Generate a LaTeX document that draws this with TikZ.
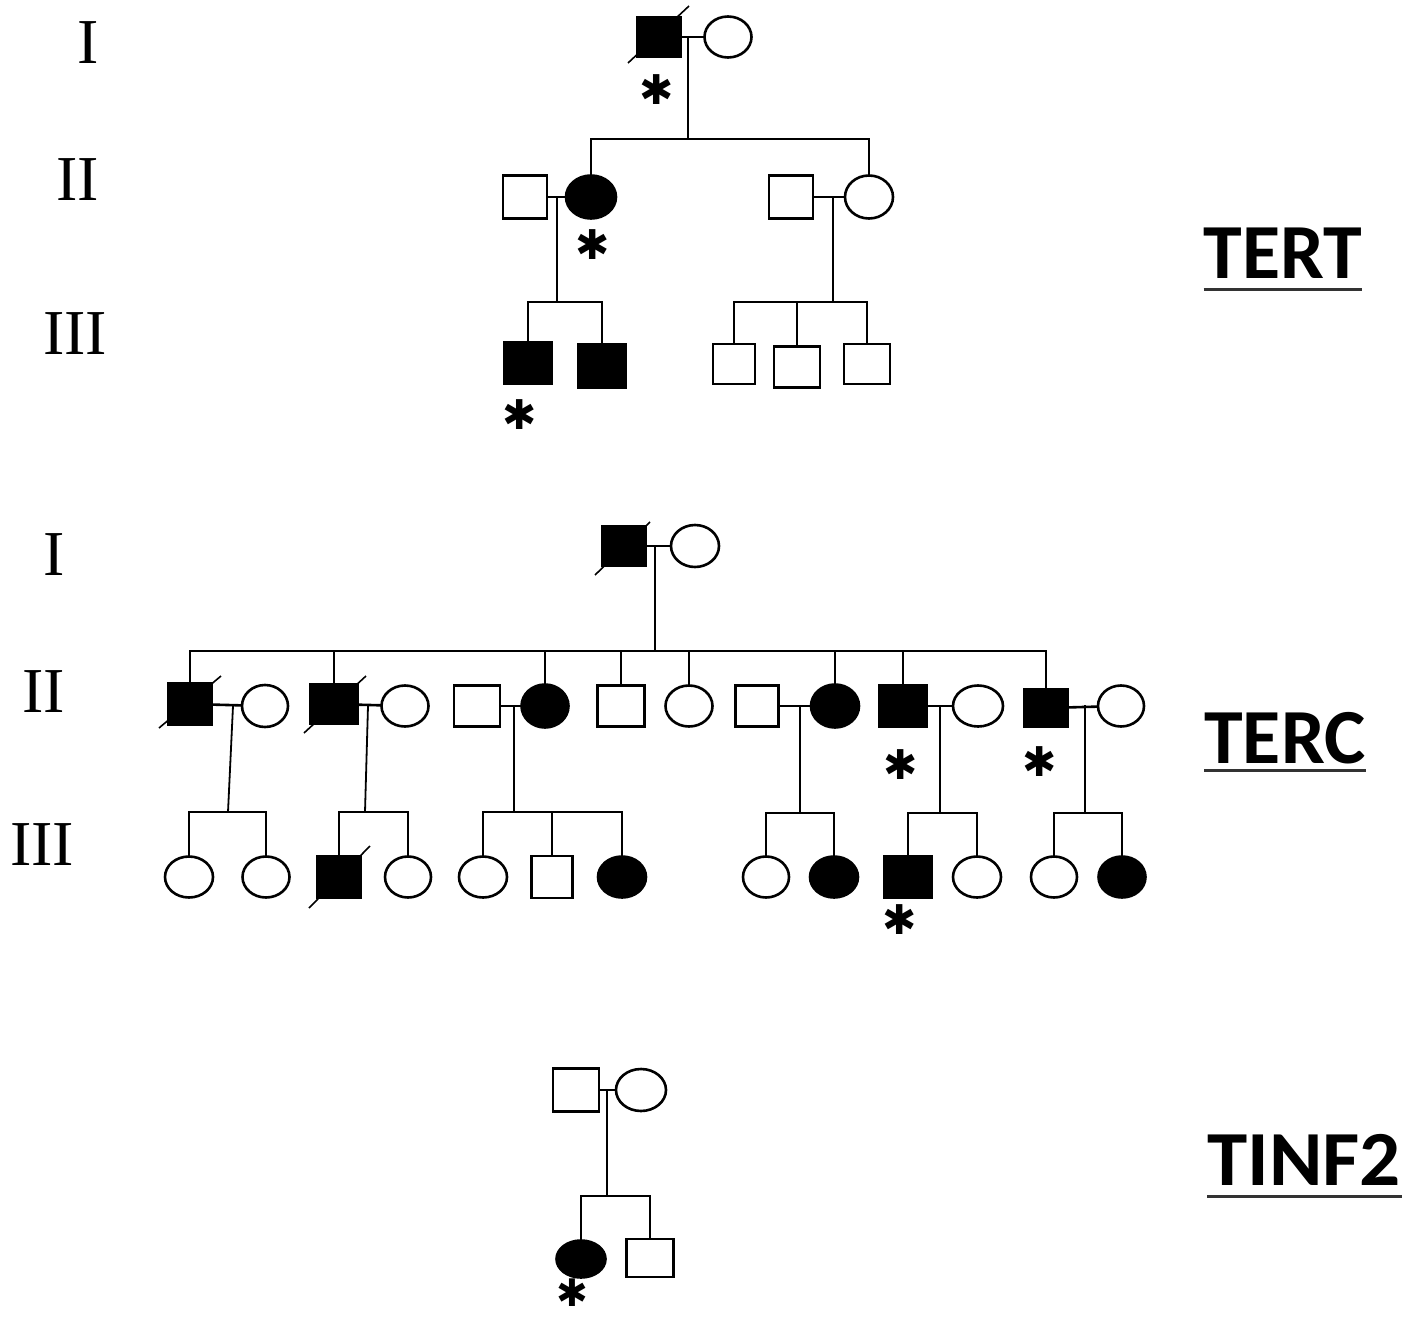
\documentclass[tikz,border=0pt]{standalone}
\usepackage{fontspec}
\usetikzlibrary{shapes.geometric}
\newfontfamily\gennum{Liberation Serif}
\newfontfamily\genelabel[BoldFont={Carlito Bold}]{Carlito}
\newfontfamily\markfont{DejaVu Sans}
\tikzset{
  lw/.style={line width=2.6pt},
  male/.style={draw, lw, rectangle, inner sep=0pt, minimum width=44pt, minimum height=41pt},
  female/.style={draw, lw, ellipse, inner sep=0pt, minimum width=47pt, minimum height=41pt},
  aff/.style={fill=black},
  link/.style={lw, line cap=rect},
  slash/.style={line width=1.6pt},
  gen/.style={font=\gennum\fontsize{64}{64}\selectfont, inner sep=0pt, anchor=base},
  gene/.style={font=\genelabel\bfseries\fontsize{78}{78}\selectfont, inner sep=0pt, anchor=base},
  uline/.style={line width=3pt, black!80},
  carrier/.style={font=\markfont\fontsize{41}{41}\selectfont, inner sep=0pt, anchor=center}
}
\begin{document}
\begin{tikzpicture}[x=1pt, y=-1pt]
\useasboundingbox (0,0) rectangle (1416,1319);

% ---------------- generation numerals ----------------
\node[gen] (ga1) at (88,64) {I};
\node[gen] (ga2) at (78,200) {II};
\node[gen] (ga3) at (75,354) {III};
\node[gen] (gb1) at (54,575) {I};
\node[gen] (gb2) at (44,712) {II};
\node[gen] (gb3) at (42,865) {III};

% ---------------- gene names ----------------
\node[gene] (lt) at (1283,278) {TERT};
\draw[uline] (lt.west |- 0,289) -- (lt.east |- 0,289);
\node[gene] (lc) at (1285,763) {TERC};
\draw[uline] (lc.west |- 0,770) -- (lc.east |- 0,770);
\node[gene, xscale=1.04] (lf) at (1304,1185) {TINF2};
\draw[uline] (1207,1196) -- (1402,1196);

% ================= TERT family =================
\node[male, aff, minimum width=44pt, minimum height=40pt] (t11) at (659,37) {};
\draw[slash] (628,63) -- (689,6);
\node[female] (t12) at (728,37) {};
\draw[link] (t11) -- (t12);
\coordinate (tm1) at (688,37);
\coordinate (ts1) at (688,139);
\draw[link] (tm1) -- (ts1);

\node[male, minimum height=43pt] (t21) at (525,197) {};
\node[female, aff, minimum width=50pt, minimum height=43pt] (t22) at (591,197) {};
\node[male, minimum height=43pt] (t23) at (791,197) {};
\node[female, minimum width=48pt, minimum height=43pt] (t24) at (869,197) {};
\draw[link] (t22.north) |- (ts1) -| (t24.north);
\draw[link] (t21) -- (t22);
\draw[link] (t23) -- (t24);

\coordinate (tm2) at (557,197);
\coordinate (ts2) at (557,302);
\draw[link] (tm2) -- (ts2);
\node[male, aff, minimum width=47pt, minimum height=42pt] (t31) at (528,363) {};
\node[male, aff, minimum width=47pt, minimum height=43pt] (t32) at (602,366) {};
\draw[link] (t31.north) |- (ts2) -| (t32.north);

\coordinate (tm3) at (833,197);
\coordinate (ts3) at (833,302);
\draw[link] (tm3) -- (ts3);
\node[male, minimum width=42pt, minimum height=40pt] (t33) at (734,364) {};
\node[male, minimum width=46pt, minimum height=41pt] (t34) at (797,367) {};
\node[male, minimum width=46pt, minimum height=40pt] (t35) at (867,364) {};
\draw[link] (t33.north) |- (ts3) -| (t35.north);
\draw[link] (t34.north) -- (t34.north |- ts3);

\node[carrier] (a1) at (657,90) {✱};
\node[carrier] (a2) at (593,245) {✱};
\node[carrier] (a3) at (520,415) {✱};

% ================= TERC family =================
\node[male, aff, minimum width=43pt, minimum height=40pt] (c11) at (624,546) {};
\draw[slash] (595,575) -- (650,522);
\node[female, minimum width=48pt, minimum height=42pt] (c12) at (695,546) {};
\draw[link] (c11) -- (c12);
\coordinate (cm0) at (655,546);
\coordinate (cs0) at (655,651);
\draw[link] (cm0) -- (cs0);

% second generation
\node[male, aff, minimum width=44pt] (c21) at (190,704) {};
\draw[slash] (159,728) -- (221,676);
\node[female, minimum width=46pt, minimum height=42pt] (c22) at (265,706) {};
\node[male, aff, minimum width=47pt, minimum height=40pt] (c23) at (334,704) {};
\draw[slash] (304,733) -- (366,676);
\node[female] (c24) at (405,706) {};
\node[male, minimum width=46pt] (c25) at (477,706) {};
\node[female, aff, minimum height=43pt] (c26) at (545,706) {};
\node[male, minimum width=47pt] (c27) at (621,706) {};
\node[female] (c28) at (689,706) {};
\node[male, minimum width=43pt] (c29) at (757,706) {};
\node[female, aff, minimum width=48pt, minimum height=43pt] (c210) at (835,706) {};
\node[male, aff, minimum width=47pt] (c211) at (903,706) {};
\node[female, minimum width=50pt] (c212) at (978,706) {};
\node[male, aff, minimum width=43pt, minimum height=38pt] (c213) at (1046,708) {};
\node[female, minimum width=46pt] (c214) at (1121,706) {};

\draw[link] (c21.north) |- (cs0) -| (c213.north);
\foreach \k in {c23,c26,c27,c28,c210,c211}
  \draw[link] (\k.north) -- (\k.north |- cs0);

\draw[link] (c21) -- (c22);
\draw[link] (c23) -- (c24);
\draw[link] (c25) -- (c26);
\draw[link] (c29) -- (c210);
\draw[link] (c211) -- (c212);
\draw[link] (c213) -- (c214);

% third generation
\node[female, minimum width=48pt] (c31) at (189,877) {};
\node[female, minimum width=47pt] (c32) at (266,877) {};
\coordinate (cm1) at (233,706);
\coordinate (cs1) at (228,812);
\draw[line width=1.8pt] (cm1) -- (cs1);
\draw[link] (c31.north) |- (cs1) -| (c32.north);

\node[male, aff, minimum width=43pt, minimum height=42pt] (c33) at (339,877) {};
\draw[slash] (309,908) -- (370,846);
\node[female, minimum width=46pt] (c34) at (408,877) {};
\coordinate (cm2) at (368,706);
\coordinate (cs2) at (365,812);
\draw[line width=1.8pt] (cm2) -- (cs2);
\draw[link] (c33.north) |- (cs2) -| (c34.north);

\node[female, minimum width=48pt] (c35) at (483,877) {};
\node[male, minimum width=41pt, minimum height=42pt] (c36) at (552,877) {};
\node[female, aff, minimum width=48pt] (c37) at (622,877) {};
\coordinate (cm3) at (514,706);
\coordinate (cs3) at (514,812);
\draw[link] (cm3) -- (cs3);
\draw[link] (c35.north) |- (cs3) -| (c37.north);
\draw[link] (c36.north) -- (c36.north |- cs3);

\node[female, minimum width=46pt] (c38) at (766,877) {};
\node[female, aff, minimum width=48pt] (c39) at (834,877) {};
\coordinate (cm4) at (800,706);
\coordinate (cs4) at (800,813);
\draw[link] (cm4) -- (cs4);
\draw[link] (c38.north) |- (cs4) -| (c39.north);

\node[male, aff, minimum width=47pt, minimum height=42pt] (c310) at (908,877) {};
\node[female, minimum width=48pt] (c311) at (977,877) {};
\coordinate (cm5) at (940,706);
\coordinate (cs5) at (940,813);
\draw[link] (cm5) -- (cs5);
\draw[link] (c310.north) |- (cs5) -| (c311.north);

\node[female, minimum width=46pt] (c312) at (1054,877) {};
\node[female, aff, minimum width=47pt] (c313) at (1122,877) {};
\coordinate (cm6) at (1085,706);
\coordinate (cs6) at (1085,813);
\draw[link] (cm6) -- (cs6);
\draw[link] (c312.north) |- (cs6) -| (c313.north);

\node[carrier] (a4) at (901,765) {✱};
\node[carrier] (a5) at (1040,762) {✱};
\node[carrier] (a6) at (900,920) {✱};

% ================= TINF2 family =================
\node[male, minimum width=46pt, minimum height=43pt] (f1) at (576,1090) {};
\node[female, minimum width=50pt, minimum height=42pt] (f2) at (641,1090) {};
\draw[link] (f1) -- (f2);
\coordinate (fm) at (607,1090);
\coordinate (fs) at (607,1196);
\draw[link] (fm) -- (fs);
\node[female, aff, minimum width=49pt, minimum height=37pt] (f3) at (581,1259) {};
\node[male, minimum width=47pt, minimum height=38pt] (f4) at (650,1258) {};
\draw[link] (f3.north) |- (fs) -| (f4.north);
\node[carrier, font=\markfont\fontsize{38}{38}\selectfont] (a7) at (572,1293) {✱};

\end{tikzpicture}
\end{document}
